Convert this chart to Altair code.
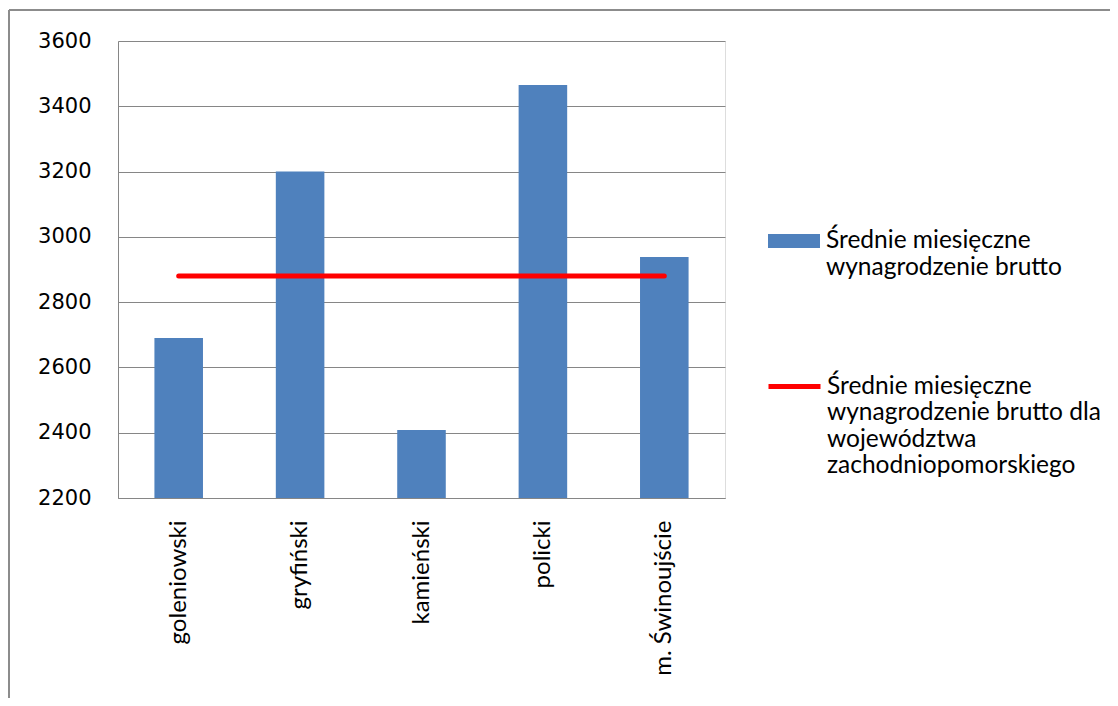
import altair as alt
import pandas as pd

powiaty = ["goleniowski", "gryfiński", "kamieński", "policki", "m. Świnoujście"]
wynagrodzenie = [2690, 3200, 2408, 3465, 2938]
wojewodztwo = [2880, 2880, 2880, 2880, 2880]
y_ticks = [2200, 2400, 2600, 2800, 3000, 3200, 3400, 3600]

bar_series = "Średnie miesięczne|wynagrodzenie brutto"
line_series = "Średnie miesięczne|wynagrodzenie brutto dla|województwa|zachodniopomorskiego"

bars_df = pd.DataFrame({"powiat": powiaty, "value": wynagrodzenie, "series": bar_series})
line_df = pd.DataFrame({"powiat": powiaty, "value": wojewodztwo, "series": line_series})

FONT = "Lato"
GRID = "#868686"

x_enc = alt.X("powiat:N", sort=powiaty, title=None,
              scale=alt.Scale(paddingInner=0.6, paddingOuter=0.3),
              axis=alt.Axis(labelAngle=-90, labelFontSize=24, labelFont=FONT,
                            labelColor="black", labelPadding=22, ticks=False,
                            domainColor=GRID, labelLimit=300))
y_enc = alt.Y("value:Q", title=None,
              scale=alt.Scale(domain=[2200, 3600], nice=False, zero=False),
              axis=alt.Axis(values=y_ticks, format="d", labelFontSize=21, labelFont="DejaVu Sans",
                            labelColor="black", labelPadding=27, ticks=False,
                            domainColor=GRID, gridColor=GRID, grid=True))

legend_common = dict(orient="none", title=None, labelFont=FONT, labelFontSize=24.5,
                     labelColor="black", labelLimit=400, labelBaseline="middle",
                     labelExpr="split(datum.label, '|')")

bars = alt.Chart(bars_df).mark_bar(color="#4F81BD", clip=True).encode(
    x=x_enc, y=y_enc,
    fill=alt.Fill("series:N", scale=alt.Scale(domain=[bar_series], range=["#4F81BD"]),
                  legend=alt.Legend(legendX=650, legendY=174, labelOffset=6,
                                    symbolType="M-1,-0.27H1V0.27H-1Z", symbolSize=2704,
                                    symbolStrokeWidth=0, **legend_common)),
)

line = alt.Chart(line_df).mark_line(strokeWidth=5, strokeCap="round").encode(
    x=alt.X("powiat:N", sort=powiaty),
    y="value:Q",
    stroke=alt.Stroke("series:N", scale=alt.Scale(domain=[line_series], range=["#FF0000"]),
                      legend=alt.Legend(legendX=648, legendY=317, labelOffset=4,
                                        symbolType="stroke",
                                        symbolSize=2704, symbolStrokeWidth=5, **legend_common)),
)

frame_df = pd.DataFrame({"k": [0]})
frame_top = alt.Chart(frame_df).mark_rule(color="#8c8c8c", strokeWidth=2).encode(
    x=alt.value(-109), x2=alt.value(1100), y=alt.value(-31))
frame_left = alt.Chart(frame_df).mark_rule(color="#8c8c8c", strokeWidth=2).encode(
    x=alt.value(-109), y=alt.value(-31), y2=alt.value(700))

chart = alt.layer(bars, line, frame_top, frame_left).resolve_scale(
    fill="independent", stroke="independent"
).properties(
    width=607, height=457,
    padding={"left": 110, "top": 33, "right": 385, "bottom": 200},
    autosize=alt.AutoSizeParams(type="none"),
).configure_view(stroke=None).configure(background="white")

chart.save("out.html", embed_options={"renderer": "svg", "actions": False})
